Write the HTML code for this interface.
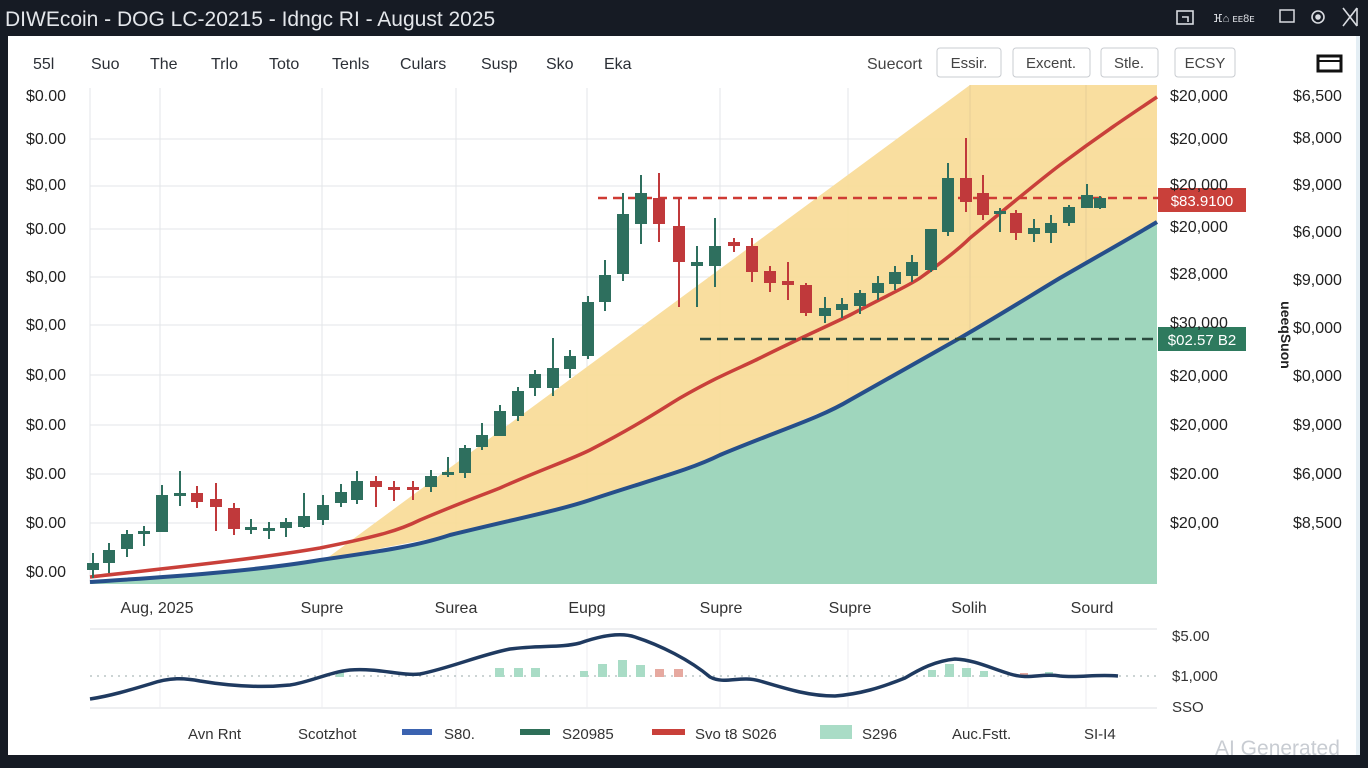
<!DOCTYPE html>
<html><head><meta charset="utf-8"><style>
html,body{margin:0;padding:0;background:#161b24;width:1368px;height:768px;overflow:hidden;font-family:"Liberation Sans",sans-serif}
</style></head><body>
<svg width="1368" height="768" xmlns="http://www.w3.org/2000/svg" font-family="Liberation Sans, sans-serif">
<rect width="1368" height="768" fill="#161b24"/>
<text x="5" y="26" font-size="21" fill="#e3e6ea">DIWEcoin  -  DOG LC-20215  -  Idngc RI  -  August 2025</text>
<g fill="none" stroke="#d8dbe0" stroke-width="1.6">
<rect x="1177" y="11" width="16" height="13"/><path d="M1182 17h6v5"/>
<circle cx="1318" cy="17" r="6"/><circle cx="1318" cy="17" r="2" fill="#d8dbe0"/>
<path d="M1343 8l14 18M1357 8l-14 18M1357 8v18"/>
</g>
<text x="1213" y="22" font-size="11" fill="#d8dbe0">ⴼ⌂ ᴇᴇ8ᴇ</text>
<rect x="1280" y="10" width="14" height="12" fill="none" stroke="#d8dbe0" stroke-width="1.5"/>
<rect x="8" y="36" width="1350" height="719" fill="#ffffff"/>
<rect x="1356" y="36" width="4" height="719" fill="#e4eef4"/>
<!-- toolbar -->
<g font-size="16" fill="#2b2f36">
<text x="33" y="69">55l</text><text x="91" y="69">Suo</text><text x="150" y="69">The</text><text x="211" y="69">Trlo</text><text x="269" y="69">Toto</text><text x="332" y="69">Tenls</text><text x="400" y="69">Culars</text><text x="481" y="69">Susp</text><text x="546" y="69">Sko</text><text x="604" y="69">Eka</text>
<text x="867" y="69" fill="#444">Suecort</text>
</g>
<g fill="#fff" stroke="#c9ccd1" stroke-width="1">
<rect x="937" y="48" width="64" height="29" rx="3"/><rect x="1013" y="48" width="77" height="29" rx="3"/><rect x="1101" y="48" width="57" height="29" rx="3"/><rect x="1175" y="48" width="60" height="29" rx="3"/>
</g>
<g font-size="15" fill="#444" text-anchor="middle">
<text x="969" y="68">Essir.</text><text x="1051" y="68">Excent.</text><text x="1129" y="68">Stle.</text><text x="1205" y="68">ECSY</text>
</g>
<rect x="1318" y="56" width="23" height="15" fill="none" stroke="#111" stroke-width="3"/><path d="M1318 61h23" stroke="#111" stroke-width="2"/>
<!-- plot grid -->
<g stroke="#e3e5e8" stroke-width="1">
<path d="M90 88V584M160 88V584M322 88V584M456 88V584M587 88V584M720 88V584M848 88V584M968 88V584M1086 88V584"/>
<path d="M90 186H1157M90 229H1157M90 277H1157M90 325H1157M90 375H1157M90 425H1157M90 474H1157M90 523H1157M90 139H1157"/>
</g>
<!-- yellow band -->
<polygon points="330,556 970,85 1157,85 1157,222 1060,278 960,338 850,400 720,455 590,500 450,535 320,560" fill="#f9dc9a" opacity="0.95"/>
<path d="M970 85V584M1086 85V584" stroke="#e6cf97" stroke-width="1"/>
<!-- green area -->
<path d="M90 582 C150 578 250 572 320 560 C390 550 420 545 450 535 C520 518 560 510 590 500 C650 480 690 470 720 455 C780 430 820 418 850 400 C900 372 930 355 960 338 C1000 315 1030 296 1060 278 C1100 255 1130 238 1157 222 V584 H90Z" fill="#9fd6bd"/>
<path d="M90 582 C150 578 250 572 320 560 C390 550 420 545 450 535 C520 518 560 510 590 500 C650 480 690 470 720 455 C780 430 820 418 850 400 C900 372 930 355 960 338 C1000 315 1030 296 1060 278 C1100 255 1130 238 1157 222" fill="none" stroke="#264f8a" stroke-width="4"/>
<path d="M90 577 C150 570 250 560 320 548 C380 536 400 530 420 520 C460 503 480 496 500 488 C540 470 570 460 590 450 C640 424 660 410 680 398 C720 375 740 368 760 358 C800 338 830 325 850 315 C890 294 910 285 920 278 C945 260 960 248 970 238 C1010 205 1040 180 1060 165 C1100 135 1130 115 1157 97" fill="none" stroke="#c9403a" stroke-width="3.5"/>
<path d="M598 198H1160" stroke="#cf3b34" stroke-width="2.5" stroke-dasharray="9,6"/>
<path d="M700 339H1160" stroke="#2a4a3e" stroke-width="2.5" stroke-dasharray="11,6"/>
<g id="candles"></g>
<rect x="1158" y="188" width="88" height="24" fill="#c9403a"/>
<text x="1202" y="206" font-size="15" fill="#fff" text-anchor="middle">$83.9100</text>
<rect x="1158" y="327" width="88" height="24" fill="#2e7a5e"/>
<text x="1202" y="345" font-size="15" fill="#fff" text-anchor="middle">$02.57 B2</text>
<!-- left axis -->
<g font-size="16" fill="#222">
<text x="26" y="101">$0.00</text><text x="26" y="144">$0.00</text><text x="26" y="190">$0,00</text><text x="26" y="234">$0.00</text><text x="26" y="282">$0,00</text><text x="26" y="330">$0,00</text><text x="26" y="380">$0,00</text><text x="26" y="430">$0.00</text><text x="26" y="479">$0.00</text><text x="26" y="528">$0.00</text><text x="26" y="577">$0.00</text>
</g>
<g font-size="16" fill="#222">
<text x="1170" y="101">$20,000</text><text x="1170" y="144">$20,000</text><text x="1170" y="190">$20,000</text><text x="1170" y="232">$20,000</text><text x="1170" y="279">$28,000</text><text x="1170" y="328">$30,000</text><text x="1170" y="381">$20,000</text><text x="1170" y="430">$20,000</text><text x="1170" y="479">$20.00</text><text x="1170" y="528">$20,00</text>
<text x="1293" y="101">$6,500</text><text x="1293" y="143">$8,000</text><text x="1293" y="190">$9,000</text><text x="1293" y="237">$6,000</text><text x="1293" y="285">$9,000</text><text x="1293" y="333">$0,000</text><text x="1293" y="381">$0,000</text><text x="1293" y="430">$9,000</text><text x="1293" y="479">$6,000</text><text x="1293" y="528">$8,500</text>
</g>
<text transform="translate(1281,335) rotate(90)" font-size="14" font-weight="bold" fill="#222" text-anchor="middle">ueeqSuon</text>
<g font-size="16" fill="#333" text-anchor="middle">
<text x="157" y="613">Aug, 2025</text><text x="322" y="613">Supre</text><text x="456" y="613">Surea</text><text x="587" y="613">Eupg</text><text x="721" y="613">Supre</text><text x="850" y="613">Supre</text><text x="969" y="613">Solih</text><text x="1092" y="613">Sourd</text>
</g>
<!-- lower panel -->
<path d="M90 629H1157M90 708H1157" stroke="#dcdfe3"/>
<g stroke="#eceef0"><path d="M160 629V708M322 629V708M456 629V708M587 629V708M720 629V708M848 629V708M968 629V708M1086 629V708"/></g>
<path d="M90 676H1157" stroke="#9aa" stroke-width="1" stroke-dasharray="2,5"/>
<g fill="#a9dcc6">
<rect x="336" y="672" width="8" height="5"/><rect x="495" y="668" width="9" height="9"/><rect x="514" y="668" width="9" height="9"/><rect x="531" y="668" width="9" height="9"/><rect x="580" y="671" width="8" height="6"/><rect x="598" y="664" width="9" height="13"/><rect x="618" y="660" width="9" height="17"/><rect x="636" y="665" width="9" height="12"/><rect x="928" y="670" width="8" height="7"/><rect x="945" y="664" width="9" height="13"/><rect x="962" y="668" width="9" height="9"/><rect x="980" y="671" width="8" height="6"/><rect x="1045" y="672" width="8" height="5"/>
</g>
<g fill="#e6a9a0"><rect x="655" y="669" width="9" height="8"/><rect x="674" y="669" width="9" height="8"/><rect x="1020" y="673" width="8" height="4"/></g>
<path d="M90 699 C110 696 130 690 150 684 C170 677 185 678 200 681 C230 686 260 688 290 685 C310 682 330 672 350 670 C380 668 400 676 420 674 C450 668 480 655 510 649 C540 645 560 648 580 643 C600 636 620 632 635 637 C660 645 690 660 710 677 C725 685 740 675 760 681 C790 690 810 696 835 696 C860 694 880 688 905 678 C920 669 935 661 955 659 C975 660 990 668 1010 674 C1030 680 1040 673 1060 676 C1080 678 1095 674 1118 676" fill="none" stroke="#1f3a60" stroke-width="3.5"/>
<g font-size="15" fill="#333">
<text x="1172" y="641">$5.00</text><text x="1172" y="681">$1,000</text><text x="1172" y="712">SSO</text>
</g>
<!-- legend -->
<g font-size="15" fill="#333">
<text x="188" y="739">Avn Rnt</text><text x="298" y="739">Scotzhot</text>
<rect x="402" y="729" width="30" height="6" fill="#3b63b0"/><text x="444" y="739">S80.</text>
<rect x="520" y="729" width="30" height="6" fill="#2e6f58"/><text x="562" y="739">S20985</text>
<rect x="652" y="729" width="33" height="6" fill="#c9403a"/><text x="695" y="739">Svo t8 S026</text>
<rect x="820" y="725" width="32" height="14" fill="#a9dcc6"/><text x="862" y="739">S296</text>
<text x="952" y="739">Auc.Fstt.</text><text x="1084" y="739">SI-I4</text>
</g>
<text x="1215" y="755" font-size="21" fill="#c8ccd2">AI Generated</text>
</svg>
<script>
var G="#2e6f5e",R="#c0393b";
var c=[[93,563,570,553,578,G],[109,550,563,543,573,G],[127,534,549,530,557,G],[144,531,534,526,546,G],[162,495,532,485,532,G],[180,493,496,471,506,G],[197,493,502,486,508,R],[216,499,507,483,531,R],[234,508,529,503,535,R],[251,527,530,519,534,G],[269,528,530,522,539,G],[286,522,528,518,537,G],[304,516,527,493,528,G],[323,505,520,495,525,G],[341,492,503,484,507,G],[357,481,500,471,504,G],[376,481,487,476,507,R],[394,487,489,481,501,R],[413,487,490,481,500,R],[431,476,487,470,492,G],[448,472,475,457,477,G],[465,448,473,445,478,G],[482,435,447,423,450,G],[500,411,436,405,436,G],[518,391,416,387,421,G],[535,374,388,370,396,G],[553,368,388,338,396,G],[570,356,369,350,378,G],[588,302,356,296,359,G],[605,275,302,260,311,G],[623,214,274,193,281,G],[641,193,224,175,244,G],[659,198,224,173,242,R],[679,226,262,197,307,R],[697,262,266,246,307,G],[715,246,266,218,287,G],[734,242,246,238,252,R],[752,246,272,238,282,R],[770,271,283,266,292,R],[788,281,285,262,300,R],[806,285,313,283,316,R],[825,308,316,297,323,G],[842,304,310,298,318,G],[860,293,306,290,314,G],[878,283,293,276,300,G],[895,272,284,266,290,G],[912,262,276,255,282,G],[931,229,270,229,272,G],[948,178,232,163,236,G],[966,178,202,138,212,R],[983,193,215,175,220,R],[1000,211,214,208,232,G],[1016,213,233,210,240,R],[1034,228,234,219,242,G],[1051,223,233,215,243,G],[1069,207,223,205,226,G],[1087,195,208,184,208,G],[1100,198,208,196,209,G]];
var s="";c.forEach(function(k){var x=k[0],t=Math.min(k[1],k[2]),h=Math.max(3,Math.abs(k[2]-k[1]));s+='<line x1="'+x+'" x2="'+x+'" y1="'+k[3]+'" y2="'+k[4]+'" stroke="'+k[5]+'" stroke-width="2"/><rect x="'+(x-6)+'" y="'+t+'" width="12" height="'+h+'" fill="'+k[5]+'"/>';});
document.getElementById("candles").innerHTML=s;
</script>
</body></html>
